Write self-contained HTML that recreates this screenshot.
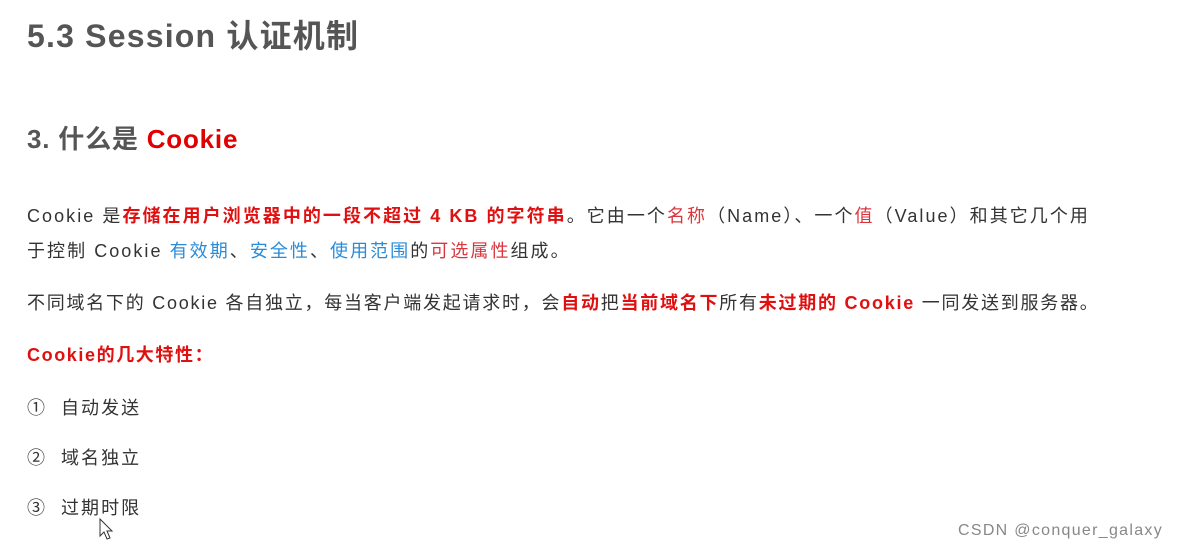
<!DOCTYPE html>
<html><head><meta charset="utf-8"><style>
body{margin:0;width:1180px;height:551px;background:#fff;position:relative;overflow:hidden;font-family:"Liberation Sans","Noto Sans CJK SC",sans-serif;color:#333}
.a{position:absolute;white-space:nowrap}
.t{font-size:18px;letter-spacing:2.05px}
.r{color:#e01010;font-weight:bold}
.rn{color:#d9363e}
.b{color:#2a8bd8}
</style></head><body>
<div class="a" style="left:27px;top:11px;font-size:32px;font-weight:bold;color:#555;letter-spacing:1.2px">5.3 Session 认证机制</div>
<div class="a" style="left:27px;top:119px;font-size:26px;font-weight:bold;color:#555;letter-spacing:0.8px">3. 什么是 <span style="color:#e00000">Cookie</span></div>
<div class="a t" style="left:27px;top:202px">Cookie 是<span class="r">存储在用户浏览器中的一段不超过 4 KB 的字符串</span>。它由一个<span class="rn">名称</span>（Name）、一个<span class="rn">值</span>（Value）和其它几个用</div>
<div class="a t" style="left:27px;top:237px">于控制 Cookie <span class="b">有效期</span>、<span class="b">安全性</span>、<span class="b">使用范围</span>的<span class="rn">可选属性</span>组成。</div>
<div class="a t" style="left:27px;top:289px;letter-spacing:1.75px">不同域名下的 Cookie 各自独立，每当客户端发起请求时，会<span class="r">自动</span>把<span class="r">当前域名下</span>所有<span class="r">未过期的 Cookie</span> 一同发送到服务器。</div>
<div class="a t" style="left:27px;top:341px;letter-spacing:1.6px"><span class="r">Cookie的几大特性：</span></div>
<div class="a t" style="left:27px;top:394px">①</div><div class="a t" style="left:61px;top:394px">自动发送</div>
<div class="a t" style="left:27px;top:444px">②</div><div class="a t" style="left:61px;top:444px">域名独立</div>
<div class="a t" style="left:27px;top:494px">③</div><div class="a t" style="left:61px;top:494px">过期时限</div>
<svg class="a" style="left:99px;top:518px" width="16" height="24"><path d="M1 1 L1 18 L5 14 L8 21 L11 20 L8 13 L13 13 Z" fill="#fff" stroke="#333" stroke-width="1"/></svg>
<div class="a" style="left:958px;top:522px;font-size:16px;color:#888;letter-spacing:1.3px">CSDN @conquer_galaxy</div>
</body></html>
